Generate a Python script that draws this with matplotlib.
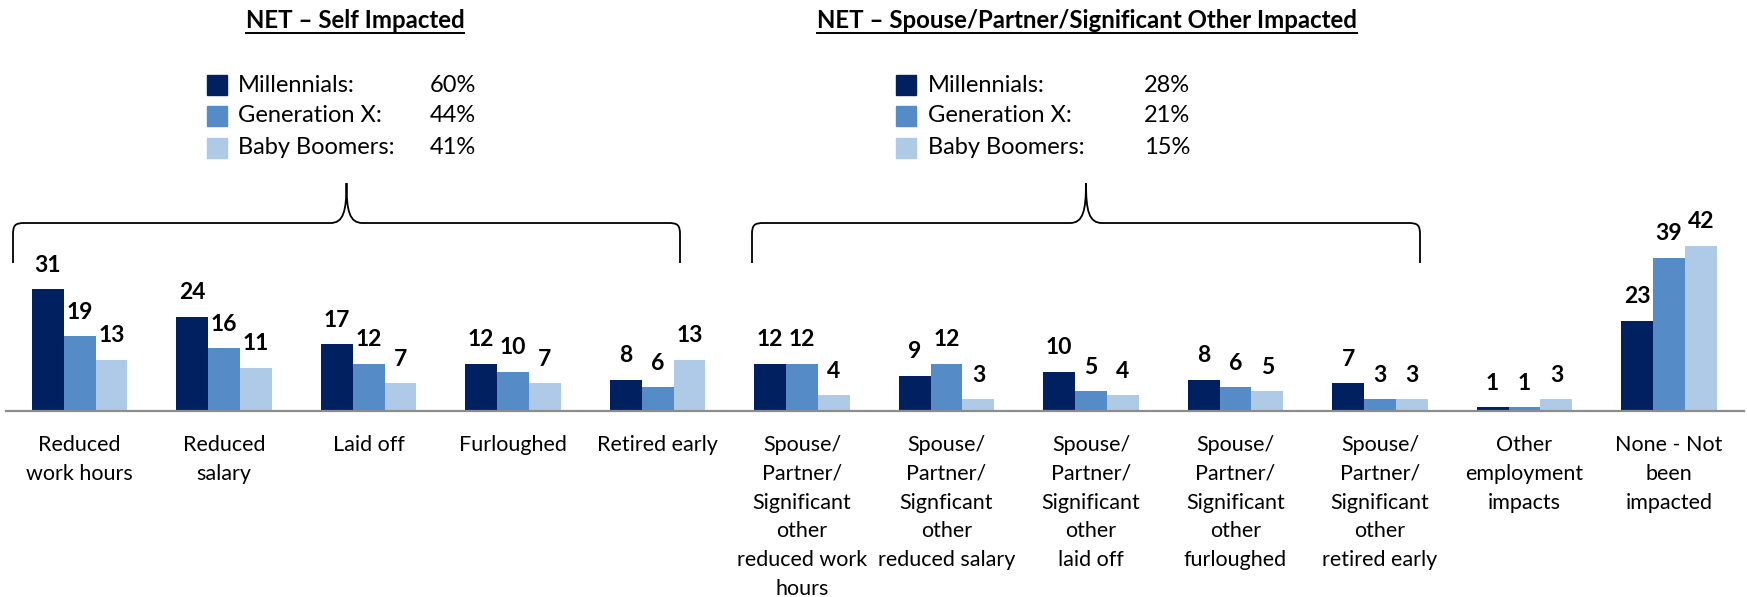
import numpy as np
import matplotlib
matplotlib.use("Agg")
import matplotlib.pyplot as plt
from matplotlib.patches import Rectangle, PathPatch
from matplotlib.path import Path

plt.rcParams['font.family'] = ['Lato', 'DejaVu Sans']

categories = [
    "Reduced\nwork hours", "Reduced\nsalary", "Laid off", "Furloughed", "Retired early",
    "Spouse/\nPartner/\nSignificant\nother\nreduced work\nhours",
    "Spouse/\nPartner/\nSignficant\nother\nreduced salary",
    "Spouse/\nPartner/\nSignificant\nother\nlaid off",
    "Spouse/\nPartner/\nSignificant\nother\nfurloughed",
    "Spouse/\nPartner/\nSignificant\nother\nretired early",
    "Other\nemployment\nimpacts", "None - Not\nbeen\nimpacted",
]
millennials = [31, 24, 17, 12, 8, 12, 9, 10, 8, 7, 1, 23]
gen_x = [19, 16, 12, 10, 6, 12, 12, 5, 6, 3, 1, 39]
boomers = [13, 11, 7, 7, 13, 4, 3, 4, 5, 3, 3, 42]

series_names = ["Millennials:", "Generation X:", "Baby Boomers:"]
net_self = ["60%", "44%", "41%"]
net_spouse = ["28%", "21%", "15%"]
colors = ["#002060", "#558CC8", "#AFCAE6"]

W, H = 1747, 597
fig = plt.figure(figsize=(W / 100, H / 100), dpi=100)

# bar axes: group centres at 79.5 + 144.5*i px, baseline at y=411 px
ax = fig.add_axes([6 / W, (H - 411) / H, 1738 / W, 196.5 / H])
x = np.arange(len(categories))
bw = 0.221
for k, vals in enumerate([millennials, gen_x, boomers]):
    pos = x + (k - 1) * bw
    ax.bar(pos, vals, width=bw, color=colors[k], zorder=2)
    for p, v in zip(pos, vals):
        ax.annotate(str(v), (p, v), xytext=(0, 17.3), textcoords="offset points",
                    ha="center", va="center", fontsize=16.5, fontweight="bold")
ax.set_xlim(-0.509, 11.519)
ax.set_ylim(0, 50)
for s in ["top", "right", "left"]:
    ax.spines[s].set_visible(False)
ax.spines["bottom"].set_color("#8c8c8c")
ax.spines["bottom"].set_linewidth(1.6)
ax.set_yticks([])
ax.set_xticks(x)
ax.set_xticklabels(categories, fontsize=15.5)
ax.tick_params(axis="x", length=0, pad=17)
for lbl in ax.get_xticklabels():
    lbl.set_linespacing(1.56)

# overlay in pixel units for headings, legends and braces
ov = fig.add_axes([0, 0, 1, 1])
ov.set_xlim(0, W)
ov.set_ylim(H, 0)
ov.axis("off")


def heading(xc, y, s):
    t = ov.text(xc, y, s, ha="center", va="center", fontsize=17.3, fontweight="bold")
    fig.canvas.draw()
    bb = t.get_window_extent().transformed(ov.transData.inverted())
    ov.plot([bb.x0, bb.x1], [y + 13, y + 13], color="black", lw=1.4)


def legend_block(x_sq, x_txt, x_val, values):
    for k, (name, v) in enumerate(zip(series_names, values)):
        yc = [85, 116, 148][k]
        ov.add_patch(Rectangle((x_sq, yc - 10), 20, 20, color=colors[k]))
        ov.text(x_txt, yc, name, ha="left", va="center", fontsize=17)
        ov.text(x_val, yc, v, ha="left", va="center", fontsize=17)


def brace(left, right, y_top=223, y_end=263, y_tip=183, r=12):
    mid = (left + right) / 2
    verts = [
        (left, y_end), (left, y_top + r),
        (left, y_top + 2), (left + 2, y_top), (left + r, y_top),
        (mid - 16, y_top),
        (mid - 3, y_top), (mid, y_top - 12), (mid, y_tip),
        (mid, y_top - 12), (mid + 3, y_top), (mid + 16, y_top),
        (right - r, y_top),
        (right - 2, y_top), (right, y_top + 2), (right, y_top + r),
        (right, y_end),
    ]
    codes = [Path.MOVETO, Path.LINETO,
             Path.CURVE4, Path.CURVE4, Path.CURVE4,
             Path.LINETO,
             Path.CURVE4, Path.CURVE4, Path.CURVE4,
             Path.CURVE4, Path.CURVE4, Path.CURVE4,
             Path.LINETO,
             Path.CURVE4, Path.CURVE4, Path.CURVE4,
             Path.LINETO]
    ov.add_patch(PathPatch(Path(verts, codes), facecolor="none", edgecolor="black", lw=1.3))


heading(355, 20, "NET – Self Impacted")
heading(1087, 20, "NET – Spouse/Partner/Significant Other Impacted")
legend_block(207, 238, 430, net_self)
legend_block(896, 928, 1144, net_spouse)
brace(13, 680)
brace(752, 1420)

fig.savefig("out.png", dpi=100)
